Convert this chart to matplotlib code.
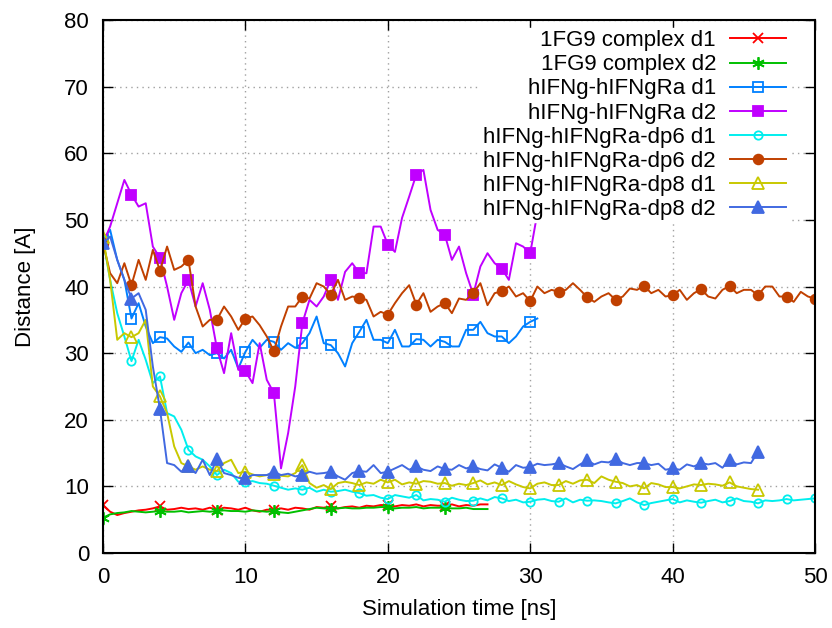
import numpy as np
import matplotlib
matplotlib.use("Agg")
import matplotlib.pyplot as plt

plt.rcParams['font.family'] = ['Liberation Sans', 'DejaVu Sans']

# time axes (ns), sampled every 0.5 ns
t_fg9 = np.arange(0, 27.01, 0.5)
t_wt = np.arange(0, 30.51, 0.5)
t_dp6 = np.arange(0, 50.01, 0.5)
t_dp8 = np.arange(0, 46.01, 0.5)

fg9_d1 = [7.2, 6.2, 5.7, 6.0, 6.2, 6.4, 6.5, 6.7, 7.0, 6.5,
          6.6, 6.8, 6.6, 6.7, 6.5, 6.8, 6.5, 6.8, 6.7, 6.5,
          6.8, 6.4, 6.2, 6.5, 6.5, 6.7, 6.5, 6.8, 6.7, 6.5,
          6.9, 6.8, 7.0, 6.7, 6.9, 7.0, 6.8, 7.1, 7.0, 7.2,
          7.2, 7.0, 7.2, 7.1, 7.3, 7.0, 7.2, 7.1, 7.1, 7.3,
          7.0, 7.2, 7.1, 7.3, 7.3]
fg9_d2 = [5.3, 5.8, 6.0, 6.1, 6.3, 6.2, 6.1, 6.2, 6.3, 6.2,
          6.2, 6.3, 6.1, 6.2, 6.3, 6.2, 6.3, 6.4, 6.3, 6.3,
          6.2, 6.4, 6.3, 6.2, 6.3, 6.1, 6.0, 6.2, 6.4, 6.6,
          6.8, 6.7, 6.6, 6.7, 6.8, 6.7, 6.7, 6.8, 6.8, 6.9,
          6.9, 6.7, 6.8, 6.8, 6.9, 6.7, 6.8, 6.8, 6.8, 6.7,
          6.7, 6.8, 6.6, 6.6, 6.6]

wt_d1 = [47.0, 48.5, 44.0, 41.0, 35.2, 37.5, 34.0, 31.5, 32.4, 32.2,
         31.0, 30.2, 31.6, 30.0, 30.5, 29.7, 30.0, 29.2, 30.5, 27.7,
         30.2, 32.0, 30.8, 32.0, 31.7, 30.5, 31.5, 30.8, 31.5, 33.0,
         35.5, 31.5, 31.2, 30.0, 28.0, 31.5, 33.2, 35.0, 32.0, 32.0,
         31.5, 33.5, 31.0, 31.0, 32.1, 32.0, 31.0, 32.0, 31.7, 31.0,
         31.0, 33.5, 33.5, 34.7, 33.0, 32.5, 32.5, 31.5, 32.5, 34.0,
         34.7, 35.2]
wt_d2 = [46.5, 49.0, 52.5, 56.0, 53.8, 52.0, 52.5, 46.0, 44.3, 40.0,
         35.0, 39.0, 41.0, 37.0, 40.5, 36.5, 30.7, 27.0, 33.0, 27.5,
         27.3, 25.5, 31.5, 26.0, 24.0, 12.7, 18.0, 25.0, 34.5, 38.0,
         37.0, 38.5, 41.0, 38.0, 42.2, 43.5, 42.0, 42.0, 49.0, 49.0,
         46.3, 45.2, 50.3, 53.5, 56.8, 57.5, 51.5, 48.5, 47.8, 44.0,
         46.0, 42.0, 38.8, 43.0, 45.0, 43.5, 42.7, 41.0, 46.5, 46.0,
         45.0, 51.0]

dp6_d1 = [47.0, 41.0, 36.0, 32.5, 28.8, 32.0, 29.0, 25.5, 26.5, 21.0,
          20.5, 18.5, 15.5, 14.5, 14.0, 13.0, 11.7, 12.5, 12.0, 10.7,
          10.6, 10.8, 10.5, 10.4, 10.1, 9.8, 9.5, 9.7, 9.5, 9.8,
          9.2, 9.5, 9.2, 9.3, 9.5, 9.2, 9.0, 8.6, 8.7, 8.3,
          8.1, 8.7, 8.5, 8.3, 8.7, 7.9, 8.1, 8.0, 7.7, 8.3,
          8.0, 7.8, 7.85, 8.2, 7.9, 8.4, 8.2, 7.8, 8.0, 7.6,
          7.7, 8.0, 8.1, 7.8, 7.7, 8.2, 7.6, 8.0, 7.85, 7.9,
          7.8, 7.6, 7.45, 7.8, 8.2, 7.6, 7.2, 7.5, 7.7, 7.9,
          8.1, 7.6, 7.9, 7.7, 7.55, 7.8, 8.0, 7.6, 7.8, 8.2,
          7.8, 7.7, 7.45, 7.9, 7.8, 7.9, 8.1, 7.9, 8.0, 8.1,
          8.2]
dp6_d2 = [46.5, 42.0, 40.5, 43.5, 40.2, 44.0, 41.0, 45.5, 42.4, 46.0,
          42.5, 43.0, 44.0, 37.0, 34.0, 35.0, 35.0, 37.0, 35.5, 33.5,
          35.2, 35.5, 34.2, 32.5, 30.3, 34.0, 37.0, 37.0, 38.5, 38.2,
          40.5, 40.0, 38.8, 41.0, 38.0, 38.5, 38.3, 38.0, 35.5, 36.2,
          35.8, 37.5, 39.0, 40.2, 37.3, 39.0, 36.2, 37.0, 37.5, 36.0,
          38.2, 38.0, 39.0, 40.5, 37.2, 39.0, 39.3, 40.0, 38.5, 39.0,
          37.8, 40.0, 39.0, 39.5, 39.2, 39.5, 40.5, 39.5, 38.4, 37.7,
          38.5, 39.0, 38.0, 38.5, 39.7, 39.5, 40.1, 39.0, 39.5, 38.5,
          38.7, 39.5, 38.0, 39.0, 39.6, 38.5, 38.2, 39.5, 40.1, 39.0,
          39.5, 39.5, 38.7, 40.0, 40.0, 38.5, 38.5, 37.7, 39.2, 38.5,
          38.2]

dp8_d1 = [47.5, 41.0, 32.0, 33.0, 32.4, 33.0, 35.0, 25.0, 23.5, 21.0,
          16.0, 13.5, 13.0, 12.5, 13.0, 12.5, 12.3, 13.5, 14.0, 12.0,
          12.2, 11.8, 11.5, 11.7, 11.8, 11.6, 11.5, 12.0, 13.2, 10.5,
          9.8, 10.2, 9.6, 10.5, 10.7, 10.5, 10.2, 10.6, 10.4, 11.0,
          10.6, 11.0, 10.3, 10.6, 10.4, 10.8, 10.7, 10.4, 10.5, 10.1,
          10.4, 10.2, 10.5, 10.9, 10.3, 10.6, 10.2, 10.8, 10.3, 9.9,
          9.7, 10.4, 10.6, 10.2, 10.2, 10.8, 10.4, 10.9, 11.0, 10.5,
          11.5, 11.0, 10.7, 10.5, 10.0, 10.2, 9.7, 10.5, 10.3, 9.9,
          9.9, 9.7, 10.0, 10.3, 10.2, 10.4, 10.3, 10.1, 10.6, 10.0,
          9.8, 9.6, 9.5]
dp8_d2 = [46.5, 47.5, 44.0, 41.0, 38.2, 39.0, 36.5, 28.0, 21.6, 13.5,
          13.2, 12.2, 13.0, 12.0, 14.0, 11.7, 14.1, 12.0, 11.7, 11.3,
          11.2, 11.7, 11.7, 11.7, 12.2, 11.7, 11.9, 11.5, 11.7, 12.2,
          11.9, 12.0, 12.2, 11.5, 11.0, 12.0, 12.3, 12.2, 13.2, 12.0,
          12.2, 12.7, 13.2, 12.5, 13.0, 12.5, 12.3, 13.0, 12.6, 12.5,
          13.2, 12.7, 13.0, 12.6, 12.4, 13.3, 12.8, 12.2, 13.2, 12.8,
          12.9, 13.4, 13.2, 13.3, 13.5, 13.0, 12.6, 13.3, 13.9, 13.3,
          13.7, 13.6, 14.1, 13.5, 13.2, 13.5, 13.5, 13.2, 13.4, 12.5,
          12.7, 12.5, 13.3, 13.0, 13.5, 13.3, 13.5, 12.8, 14.0, 13.3,
          13.6, 13.5, 15.2]

labels = ['1FG9 complex d1', '1FG9 complex d2',
          'hIFNg-hIFNgRa d1', 'hIFNg-hIFNgRa d2',
          'hIFNg-hIFNgRa-dp6 d1', 'hIFNg-hIFNgRa-dp6 d2',
          'hIFNg-hIFNgRa-dp8 d1', 'hIFNg-hIFNgRa-dp8 d2']

series = [
    (t_fg9, fg9_d1, '#ff0000', 'x', 'full', 7, 8),
    (t_fg9, fg9_d2, '#00c000', (6, 2, 0), 'full', 9, 8),
    (t_wt, wt_d1, '#0080ff', 's', 'none', 7, 4),
    (t_wt, wt_d2, '#c000ff', 's', 'full', 7.5, 4),
    (t_dp6, dp6_d1, '#00eeee', 'o', 'none', 6, 4),
    (t_dp6, dp6_d2, '#c04000', 'o', 'full', 7, 4),
    (t_dp8, dp8_d1, '#c8c800', '^', 'none', 8, 4),
    (t_dp8, dp8_d2, '#4169e1', '^', 'full', 8.5, 4),
]

fig = plt.figure(figsize=(8.32, 6.28), dpi=100)
ax = fig.add_axes([0.1238, 0.1194, 0.8558, 0.8487])

for (t, y, c, m, fill, ms, every), lab in zip(series, labels):
    ax.plot(t, y, color=c, lw=1.4, marker=m, ms=ms, markevery=every,
            mfc=c if fill == 'full' else 'none', mec=c, mew=1.3, label=lab)

ax.set_xlim(0, 50)
ax.set_ylim(0, 80)
ax.set_xticks(np.arange(0, 51, 10))
ax.set_yticks(np.arange(0, 81, 10))
ax.grid(True, color='#a0a0a0', linestyle=(0, (1, 3)), linewidth=1)
ax.tick_params(direction='in', length=7, width=1, top=True, right=True,
               labelsize=16, pad=10)
for s in ax.spines.values():
    s.set_linewidth(1.5)

ax.set_xlabel('Simulation time [ns]', fontsize=16, labelpad=8)
ax.set_ylabel('Distance [A]', fontsize=16, labelpad=20)

leg = ax.legend(loc='upper right', bbox_to_anchor=(0.978, 1.006), markerfirst=False,
                numpoints=1, fontsize=16, handlelength=2.5, handletextpad=0.65,
                labelspacing=0.14, borderpad=0.1, frameon=True, fancybox=False,
                facecolor='white', edgecolor='white', framealpha=1)

fig.savefig('out.png', dpi=100)
